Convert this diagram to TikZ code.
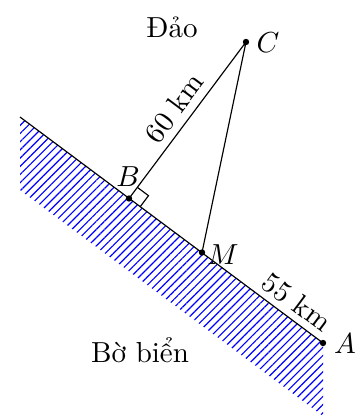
\documentclass[tikz,border=0pt]{standalone}
\usepackage{fontspec}
\usetikzlibrary{patterns.meta,calc}
\begin{document}
\begin{tikzpicture}[x=0.345pt,y=-0.345pt,
  dot/.style={circle,fill=black,inner sep=0pt,minimum size=2.2pt},
  lbl/.style={inner sep=0pt},
  hatch/.style={pattern={Lines[angle=45,distance=2pt,line width=0.4pt]},pattern color=blue}]
\useasboundingbox (0,0) rectangle (361,416);
\coordinate (T) at (20,117);
\coordinate (A) at (323,343);
\coordinate (C) at (246,42);
\coordinate (B) at (129,198.5);
\coordinate (M) at (202,252.5);
\coordinate (A2) at (323,416);
\coordinate (T2) at (20,190);
\fill[hatch] (T) -- (A) -- (A2) -- (T2) -- cycle;
\draw (T) -- (A);
\draw (B) -- (C) -- (M);
\coordinate (P1) at ($(B)!4.8pt!(C)$);
\coordinate (P2) at ($(B)!4.8pt!(A)$);
\draw (P1) -- ($(P1)+(P2)-(B)$) -- (P2);
\node[dot] (nA) at (A) {};
\node[dot] (nB) at (B) {};
\node[dot] (nC) at (C) {};
\node[dot] (nM) at (M) {};
\node[lbl] (lC) at (268,43) {$C$};
\node[lbl] (lB) at (128,177) {$B$};
\node[lbl] (lM) at (223,255) {$M$};
\node[lbl] (lA) at (345,344) {$A$};
\node[lbl] (dao) at (172,27) {Đảo};
\node[lbl] (bb) at (140,350) {Bờ biển};
\node[lbl,rotate=53.3] (l60) at (174,108) {60 km};
\node[lbl,rotate=-36.7] (l55) at (297,302) {55 km};
\end{tikzpicture}
\end{document}
